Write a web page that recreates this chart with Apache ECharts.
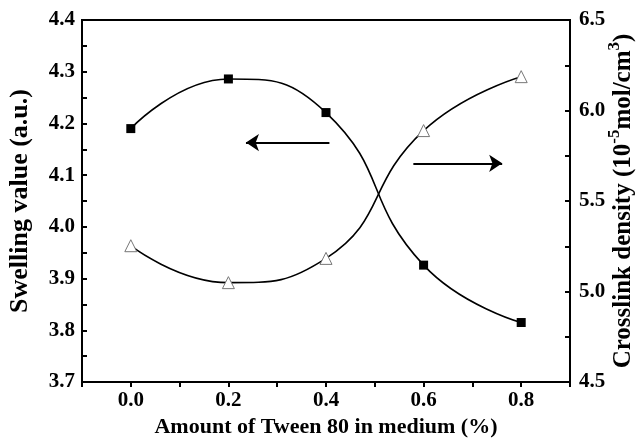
<!DOCTYPE html>
<html><head><meta charset="utf-8">
<script src="https://cdn.jsdelivr.net/npm/echarts@6/dist/echarts.min.js"></script>
<style>html,body{margin:0;padding:0;background:#fff}#c{width:639px;height:440px}</style>
</head><body><div id="c"></div>
<script>
const xValues = [0.0, 0.2, 0.4, 0.6, 0.8];
const swelling = [4.19, 4.286, 4.221, 3.926, 3.815];
const crosslink = [5.253, 5.049, 5.183, 5.889, 6.187];
const leftArrow = [[0.407, 4.163], [0.236, 4.163]];
const rightArrow = [[0.579, 5.708], [0.761, 5.708]];
const xName = 'Amount of Tween 80 in medium (%)';
const yLeftName = 'Swelling value (a.u.)';

const FONT = 'Liberation Serif';
const chart = echarts.init(document.getElementById('c'), null, {renderer: 'canvas'});
const tickLabel = {fontFamily: FONT, fontWeight: 'bold', fontSize: 21, color: '#000'};
const axisLine = {show: true, onZero: false, lineStyle: {color: '#000', width: 2}};

chart.setOption({
  animation: false,
  backgroundColor: '#fff',
  grid: {left: 82, right: 69, top: 20, bottom: 58, containLabel: false, outerBoundsMode: 'none',
    show: true, borderColor: '#000', borderWidth: 2, backgroundColor: 'transparent'},
  xAxis: {
    type: 'value', min: -0.1, max: 0.9, interval: 0.1,
    name: xName, nameLocation: 'middle', nameGap: 34, nameMoveOverlap: false,
    nameTextStyle: {fontFamily: FONT, fontWeight: 'bold', fontSize: 22, color: '#000'},
    axisLine: axisLine, splitLine: {show: false},
    axisTick: {show: true, inside: false, length: 5, lineStyle: {color: '#000', width: 2}},
    axisLabel: Object.assign({}, tickLabel, {margin: 8, formatter: v => {
      const k = Math.round(v * 10);
      return (k >= 0 && k <= 8 && k % 2 === 0) ? (k / 10).toFixed(1) : '';
    }})
  },
  yAxis: [{
    type: 'value', min: 3.7, max: 4.4, interval: 0.1, position: 'left',
    name: yLeftName, nameLocation: 'middle', nameGap: 49, nameRotate: 90, nameMoveOverlap: false,
    nameTextStyle: {fontFamily: FONT, fontWeight: 'bold', fontSize: 26, color: '#000'},
    axisLine: axisLine, splitLine: {show: false},
    axisTick: {show: true, inside: true, length: 5, lineStyle: {color: '#000', width: 2}},
    minorTick: {show: true, splitNumber: 2, length: 5, lineStyle: {color: '#000', width: 2}},
    axisLabel: Object.assign({}, tickLabel, {margin: 7, formatter: v => v.toFixed(1)})
  }, {
    type: 'value', min: 4.5, max: 6.5, interval: 0.5, position: 'right',
    name: '{a|Crosslink density (10}{s|-5}{a|mol/cm}{s|3}{a|)}', nameLocation: 'middle', nameGap: 36, nameRotate: 90,
    nameMoveOverlap: false,
    nameTextStyle: {fontFamily: FONT, fontWeight: 'bold', fontSize: 25, color: '#000', rich: {
      a: {fontFamily: FONT, fontWeight: 'bold', fontSize: 25, color: '#000', verticalAlign: 'bottom', lineHeight: 30},
      s: {fontFamily: FONT, fontWeight: 'bold', fontSize: 17, color: '#000', verticalAlign: 'top', lineHeight: 30}
    }},
    axisLine: axisLine, splitLine: {show: false},
    axisTick: {show: true, inside: true, length: 5, lineStyle: {color: '#000', width: 2}},
    minorTick: {show: true, splitNumber: 2, length: 5, lineStyle: {color: '#000', width: 2}},
    axisLabel: Object.assign({}, tickLabel, {margin: 9, formatter: v => v.toFixed(1)})
  }],
  series: [{
    type: 'line', yAxisIndex: 0, smooth: 0.5,
    data: xValues.map((x, i) => [x, swelling[i]]),
    symbol: 'rect', symbolSize: 9,
    itemStyle: {color: '#000'}, lineStyle: {color: '#000', width: 1.6},
    markLine: {silent: true, symbol: ['none', 'arrow'], symbolSize: 13,
      label: {show: false}, lineStyle: {color: '#000', width: 2, type: 'solid'},
      data: [[{coord: leftArrow[0]}, {coord: leftArrow[1]}]]}
  }, {
    type: 'line', yAxisIndex: 1, smooth: 0.5,
    data: xValues.map((x, i) => [x, crosslink[i]]),
    symbol: 'triangle', symbolSize: 12,
    itemStyle: {color: '#fff', borderColor: '#777', borderWidth: 1},
    lineStyle: {color: '#000', width: 1.6},
    markLine: {silent: true, symbol: ['none', 'arrow'], symbolSize: 13,
      label: {show: false}, lineStyle: {color: '#000', width: 2, type: 'solid'},
      data: [[{coord: rightArrow[0]}, {coord: rightArrow[1]}]]}
  }]
});
</script></body></html>
